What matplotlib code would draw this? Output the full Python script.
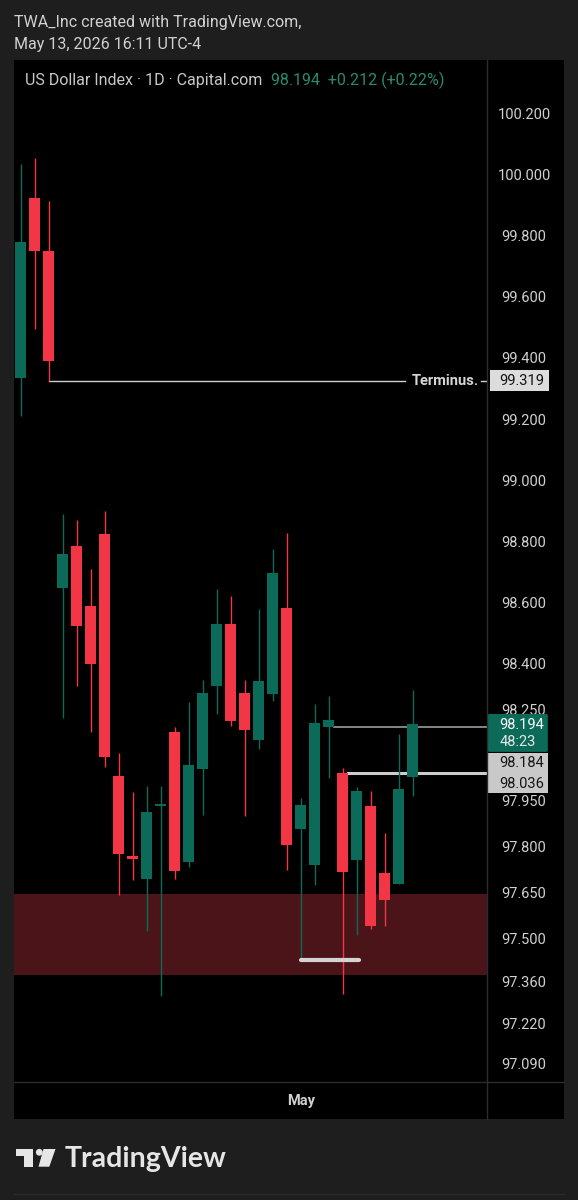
import numpy as np
import matplotlib.pyplot as plt
from matplotlib.patches import Rectangle, Polygon, Circle, FancyBboxPatch
import matplotlib.transforms as mtransforms

plt.rcParams['font.family'] = ['Roboto', 'DejaVu Sans']

# daily OHLC, US Dollar Index (Capital.com)
opens = [99.328, 99.918, 99.745, 98.642, 98.777, 98.583, 98.818, 98.026, 97.761, 97.688,
         97.926, 98.170, 97.744, 98.049, 98.320, 98.524, 98.296, 98.143, 98.295, 98.576,
         97.850, 97.735, 98.184, 98.036, 97.750, 97.927, 97.709, 97.673, 98.022]
highs = [100.029, 100.048, 99.907, 98.883, 98.863, 98.703, 98.893, 98.100, 97.973, 97.993,
         97.993, 98.187, 98.266, 98.339, 98.638, 98.615, 98.340, 98.571, 98.767, 98.820,
         97.952, 98.261, 98.287, 98.051, 97.988, 97.977, 97.838, 98.163, 98.305]
lows = [99.204, 99.489, 99.319, 98.214, 98.321, 98.168, 98.053, 97.634, 97.686, 97.516,
        97.305, 97.688, 97.727, 97.898, 98.229, 98.189, 97.895, 98.114, 98.270, 97.717,
        97.425, 97.668, 98.018, 97.311, 97.503, 97.524, 97.534, 97.670, 97.961]
closes = [99.773, 99.745, 99.384, 98.751, 98.515, 98.391, 98.088, 97.771, 97.754, 97.907,
          97.932, 97.715, 98.060, 98.297, 98.524, 98.205, 98.174, 98.337, 98.688, 97.799,
          97.929, 98.198, 98.209, 97.711, 97.976, 97.534, 97.619, 97.982, 98.194]

price_ticks = [100.2, 100.0, 99.8, 99.6, 99.4, 99.2, 99.0, 98.8, 98.6, 98.4, 98.25,
               97.95, 97.8, 97.65, 97.5, 97.36, 97.22, 97.09]
month_pos = [20]
month_labels = ['May']

terminus = 99.319
terminus_from = 2
ray_levels = [98.184, 98.036]
ray_from = [22, 23]
zone = (97.374, 97.639)
low_mark = 97.423
low_mark_span = (20, 24.15)
last_price = 98.194
change = 0.212
change_pct = 0.22
countdown = '48:23'

GREEN = '#0b6b58'
RED = '#f23645'
BG = '#1e1e1e'
TXT = '#d1d1d1'
GRID = '#2c2c2c'

W, H = 578, 1200
fig = plt.figure(figsize=(W / 100, H / 100), dpi=100)
fig.patch.set_facecolor(BG)


def box(x0, y0, x1, y1):
    return [x0 / W, 1 - y1 / H, (x1 - x0) / W, (y1 - y0) / H]


XL, XR, XA, YT, YB, YTB = 13.6, 487, 564, 60, 1082, 1119
ax = fig.add_axes(box(XL, YT, XR, YB))
ax_p = fig.add_axes(box(XR, YT, XA, YB))
ax_t = fig.add_axes(box(XL, YB, XR, YTB))
ax_c = fig.add_axes(box(XR, YB, XA, YTB))

ylo, yhi = 97.0233, 100.369
xlo, xhi = -0.514, 33.3
for a in (ax, ax_p, ax_t, ax_c):
    a.set_facecolor('black')
    for s in a.spines.values():
        s.set_visible(False)
    a.set_xticks([])
    a.set_yticks([])
for a in (ax, ax_p):
    a.set_ylim(ylo, yhi)
for a in (ax, ax_t):
    a.set_xlim(xlo, xhi)

o = np.array(opens)
h = np.array(highs)
l = np.array(lows)
c = np.array(closes)
x = np.arange(len(o))
up = c >= o
cols = np.where(up, GREEN, RED)

# zone
ax.axhspan(zone[0], zone[1], color='#4b1419', zorder=0, lw=0)

ax.vlines(x, l, h, colors=cols, lw=1.0, zorder=2)
body_lo = np.minimum(o, c)
body_h = np.maximum(np.abs(c - o), 0.008)
ax.bar(x, body_h, bottom=body_lo, width=0.8, color=cols, lw=0, zorder=3)

# terminus line
ax.plot([terminus_from, 27.44], [terminus, terminus], color='#cfcfcf', lw=1.0, zorder=1)
ax.plot([32.87, xhi], [terminus, terminus], color='#cfcfcf', lw=1.0, zorder=1)
ax.text(27.94, terminus, 'Terminus.', color='#d6d6d6', fontsize=10.5, fontweight='bold',
        va='center', ha='left')

# rays
ax.plot([ray_from[0] + 0.4, xhi], [ray_levels[0]] * 2, color='#9c9c9c', lw=1.2, zorder=1)
ax.plot([ray_from[1] + 0.4, xhi], [ray_levels[1]] * 2, color='#cdcdcd', lw=2.2, zorder=1)

# low marker
ax.plot(low_mark_span, [low_mark] * 2, color='#d4d4d4', lw=3, solid_capstyle='round', zorder=4)

# price scale labels
tr = mtransforms.blended_transform_factory(ax_p.transAxes, ax_p.transData)
shift = mtransforms.ScaledTranslation(0, -3.5 / 100, fig.dpi_scale_trans)
for v in price_ticks:
    ax_p.text(0.48, v, f'{v:.3f}', transform=tr + shift, ha='center', va='center',
              color=TXT, fontsize=10.5)

ax_p.add_patch(Rectangle((0.04, terminus - 0.035), 0.76, 0.07, transform=tr,
                         facecolor='#dcdcdc', edgecolor='none', zorder=5))
ax_p.text(0.45, terminus, f'{terminus:.3f}', transform=tr, ha='center', va='center',
          color='#131313', fontsize=10.5, zorder=6)

# current price tag with countdown
ax_p.add_patch(FancyBboxPatch((0.01, last_price - 0.090), 0.78, 0.124,
                              boxstyle='round,pad=0,rounding_size=0.03', mutation_aspect=0.1,
                              transform=tr, facecolor=GREEN, edgecolor='none', zorder=5))
ax_p.text(0.45, last_price - 0.002, f'{last_price:.3f}', transform=tr, ha='center', va='center',
          color='#ffffff', fontsize=10.5, zorder=6)
ax_p.text(0.40, last_price - 0.057, countdown, transform=tr, ha='center', va='center',
          color='#e8e8e8', fontsize=10.5, zorder=6)
# ray tags
ax_p.add_patch(Rectangle((0.01, last_price - 0.226), 0.78, 0.133, transform=tr,
                         facecolor='#c9c9c9', edgecolor='none', zorder=5))
ax_p.text(0.45, last_price - 0.128, f'{ray_levels[0]:.3f}', transform=tr, ha='center', va='center',
          color='#151515', fontsize=10.5, zorder=6)
ax_p.text(0.45, last_price - 0.195, f'{ray_levels[1]:.3f}', transform=tr, ha='center', va='center',
          color='#151515', fontsize=10.5, zorder=6)

# time axis
for p, lab in zip(month_pos, month_labels):
    ax_t.text(p, 0.5, lab, ha='center', va='center', color=TXT, fontsize=10.5,
              fontweight='bold', transform=mtransforms.blended_transform_factory(ax_t.transData, ax_t.transAxes))

# overlay for separators, header, footer
ov = fig.add_axes([0, 0, 1, 1])
ov.set_xlim(0, W)
ov.set_ylim(H, 0)
ov.axis('off')
ov.plot([XR, XR], [YT, YTB], color=GRID, lw=1)
ov.plot([XL, XA], [YB, YB], color=GRID, lw=1)
ov.plot([XL, XA], [1194, 1194], color='#2a2a2a', lw=1)

ov.text(XL, 22, 'TWA_Inc created with TradingView.com,', color=TXT, fontsize=11.5, va='center')
ov.text(XL, 45, 'May 13, 2026 16:11 UTC-4', color=TXT, fontsize=11.5, va='center')
ov.text(24.7, 80, 'US Dollar Index · 1D · Capital.com', color='#c8c8c8', fontsize=11.5, va='center')
ov.text(271, 80, f'{last_price:.3f}  +{change:.3f} (+{change_pct:.2f}%)', color='#2a8a6f',
        fontsize=11.5, va='center')

# TradingView logo
logo = '#e6e6e6'
ov.add_patch(Rectangle((16, 1149), 16.7, 7, color=logo, lw=0))
ov.add_patch(Rectangle((24, 1149), 8.7, 17.7, color=logo, lw=0))
ov.add_patch(Circle((39.3, 1152.3), 3.4, color=logo, lw=0))
ov.add_patch(Polygon([(43.5, 1149), (55.5, 1149), (49.3, 1166.7), (38.5, 1166.7)], color=logo, lw=0))
ov.text(65, 1159, 'TradingView', color=logo, fontsize=20.5, fontweight='bold',
        family=['Lato', 'DejaVu Sans'], va='center')

fig.savefig('out.png', dpi=100, facecolor=BG)
